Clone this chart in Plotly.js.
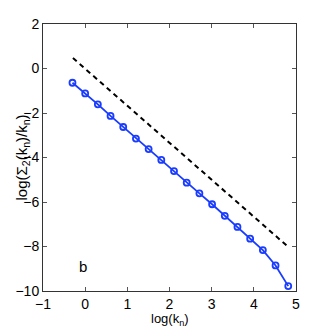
<!DOCTYPE html>
<html>
<head>
<meta charset="utf-8">
<script src="https://cdn.plot.ly/plotly-3.0.1.min.js"></script>
<style>
  body { margin: 0; background: #fff; }
  #plot { width: 327px; height: 327px; }
</style>
</head>
<body>
<div id="plot"></div>
<script>
// log(k_n) values
let logK = [-0.301, 0.0, 0.301, 0.602, 0.903, 1.204, 1.505, 1.806, 2.107,
            2.408, 2.709, 3.010, 3.311, 3.612, 3.913, 4.214, 4.515, 4.816];

// log(Sigma_2(k_n)/k_n)
let logS = [-0.64, -1.12, -1.61, -2.13, -2.63, -3.15, -3.62, -4.11, -4.61,
            -5.13, -5.61, -6.10, -6.62, -7.12, -7.65, -8.16, -8.85, -9.78];

// reference slope line (dashed)
let refX = [-0.29, 4.81];
let refY = [0.47, -8.01];

let trace1 = {
  x: logK,
  y: logS,
  mode: "lines+markers",
  line: { color: "#1a3cff", width: 1.8 },
  marker: { symbol: "circle-open", size: 6, color: "#1a3cff", line: { width: 1.8 } },
  cliponaxis: false
};

let trace2 = {
  x: refX,
  y: refY,
  mode: "lines",
  line: { color: "black", width: 2, dash: "5px,4px" }
};

let data = [trace2, trace1];

let fam = "Liberation Sans Narrow, Arial Narrow, Liberation Sans, sans-serif";
let axisFont = { family: fam, size: 14, color: "black" };

let layout = {
  width: 327,
  height: 327,
  margin: { l: 43, r: 31, t: 24, b: 36 },
  showlegend: false,
  paper_bgcolor: "white",
  plot_bgcolor: "white",
  font: axisFont,
  xaxis: {
    range: [-1, 5],
    dtick: 1,
    ticks: "inside",
    ticklen: 4,
    tickcolor: "#555",
    showline: true,
    linecolor: "#333",
    mirror: "ticks",
    showgrid: false,
    zeroline: false,
    tickfont: axisFont
  },
  yaxis: {
    range: [-10, 2],
    dtick: 2,
    ticks: "inside",
    ticklen: 4,
    tickcolor: "#555",
    showline: true,
    linecolor: "#333",
    mirror: "ticks",
    showgrid: false,
    zeroline: false,
    tickfont: axisFont
  },
  annotations: [
    { x: -0.06, y: -8.9, text: "b", showarrow: false, font: { family: fam, size: 15, color: "black" } },
    // y title
    { xref: "paper", yref: "paper", x: 0, y: 0.5, xanchor: "center", yanchor: "middle",
      xshift: -21, textangle: -90,
      text: "log(Σ<sub>2</sub>(k<sub>n</sub>)/k<sub>n</sub>)", showarrow: false,
      font: { family: fam, size: 15, color: "black" } },
    // x title
    { xref: "paper", yref: "paper", x: 0.5, y: 0, xanchor: "center", yanchor: "top",
      yshift: -18, text: "log(k<sub>n</sub>)", showarrow: false,
      font: { family: fam, size: 13, color: "black" } }
  ]
};

Plotly.newPlot("plot", data, layout, { staticPlot: true });
</script>
</body>
</html>
